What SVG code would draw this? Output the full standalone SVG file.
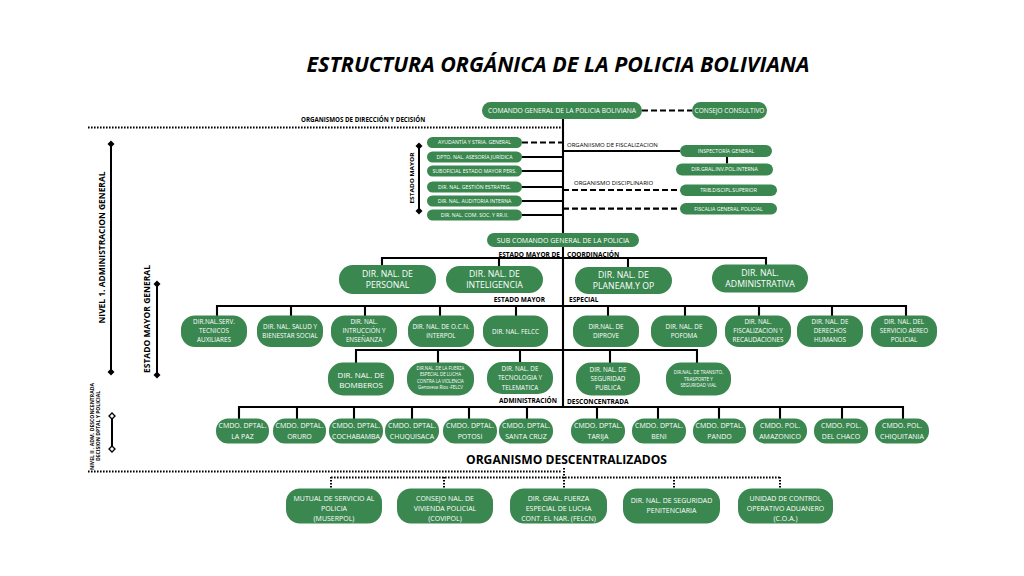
<svg xmlns="http://www.w3.org/2000/svg" width="1024" height="576" viewBox="0 0 1024 576">
<style>
.bx{fill:#3b8750}
.t{font-family:"Open Sans","Liberation Sans",sans-serif;fill:#fff;text-anchor:middle}
.k{font-family:"Open Sans","Liberation Sans",sans-serif;fill:#000}
.kb{font-family:"Open Sans","Liberation Sans",sans-serif;fill:#000;font-weight:700}
.ln{stroke:#000;stroke-width:2.1;fill:none}
.ds{stroke:#000;stroke-width:2.2;fill:none;stroke-dasharray:6 3}
.dt{stroke:#000;stroke-width:2;fill:none;stroke-dasharray:1.6 1.4}
.br{stroke:#000;stroke-width:2;fill:none;marker-start:url(#dia);marker-end:url(#dia)}
.bro{stroke:#000;stroke-width:2;fill:none;marker-start:url(#dio);marker-end:url(#dio)}
.s5{font-size:5.2px}.s6{font-size:6.3px}.s7{font-size:7px}.s8{font-size:8.7px}
</style>
<defs>
<marker id="dia" markerUnits="userSpaceOnUse" markerWidth="8" markerHeight="8" viewBox="-4 -4 8 8" refX="0" refY="0" orient="auto"><path d="M0,-3.5L3.5,0L0,3.5L-3.5,0Z" fill="#000"/></marker>
<marker id="dio" markerUnits="userSpaceOnUse" markerWidth="8" markerHeight="8" viewBox="-4 -4 8 8" refX="0" refY="0" orient="auto"><path d="M0,-3L3,0L0,3L-3,0Z" fill="#fff" stroke="#000" stroke-width="1.3"/></marker>
</defs>
<rect width="1024" height="576" fill="#fff"/>
<text x="558" y="72" class="kb" font-size="22" font-style="italic" text-anchor="middle" textLength="503" lengthAdjust="spacingAndGlyphs">ESTRUCTURA ORGÁNICA DE LA POLICIA BOLIVIANA</text>

<g id="connectors">
<path class="ln" d="M563,119V407"/>
<path class="ds" d="M642,110.5H692"/>
<path class="ds" d="M522,142.5H563"/>
<path class="ln" d="M522,157H563M522,171H563M522,187H563M522,201H563M522,215H563"/>
<path class="ln" d="M563,151H680M727,157V163.5"/>
<path class="ds" d="M563,190H680M563,208.7H680"/>
<path class="ln" d="M382,258H766M382,257V265M499,257V266M628,257V267M766,257V265"/>
<path class="ln" d="M217,306H907M217,305V316M291,305V316M365,305V316M440,305V316M516,305V316M608,305V316M685,305V316M759,305V316M832,305V316M906,305V316"/>
<path class="ln" d="M356,350H697M356,349V363M438,349V363M520,349V362M610,349V363M697,349V363"/>
<path class="ln" d="M239,407H903M239,406V419M297,406V419M354,406V419M412,406V419M469,406V419M527,406V419M597,406V419M658,406V419M719,406V419M780,406V419M842,406V419M903,406V419"/>
<path class="dt" d="M88,127.5H563"/>
<path class="dt" d="M88,471.5H561"/>
<path class="dt" d="M564,468V489"/>
<path class="dt" d="M331,477.5H780M331,477V489M444,477V489M674,477V489M780,477V489"/>
</g>

<g id="side-labels">
<text x="301" y="122" class="kb" font-size="6.2">ORGANISMOS DE DIRECCIÓN Y DECISIÓN</text>
<text x="567" y="146.5" class="k" font-size="6">ORGANIISMO DE FISCALIZACION</text>
<text x="574" y="185" class="k" font-size="6">ORGANISMO DISCIPLINARIO</text>
<text x="560" y="256.5" class="kb" font-size="6.5" text-anchor="end">ESTADO MAYOR DE</text>
<text x="567" y="256.5" class="kb" font-size="6.5">COORDINACIÓN</text>
<text x="545" y="301.5" class="kb" font-size="6.5" text-anchor="end">ESTADO MAYOR</text>
<text x="569" y="302" class="kb" font-size="6.5">ESPECIAL</text>
<text x="557" y="402.5" class="kb" font-size="6.5" text-anchor="end">ADMINISTRACIÓN</text>
<text x="567" y="403.5" class="kb" font-size="6.5">DESCONCENTRADA</text>
<text x="566.5" y="464" class="kb" font-size="13" text-anchor="middle" textLength="201" lengthAdjust="spacingAndGlyphs">ORGANISMO DESCENTRALIZADOS</text>
<text transform="translate(105,247.5) rotate(-90)" class="kb" font-size="9.5" text-anchor="middle" textLength="152" lengthAdjust="spacingAndGlyphs">NIVEL 1. ADMINISTRACION GENERAL</text>
<path class="br" d="M111,144V372"/>
<text transform="translate(150,319) rotate(-90)" class="kb" font-size="8.5" text-anchor="middle" textLength="108" lengthAdjust="spacingAndGlyphs">ESTADO MAYOR GENERAL</text>
<path class="br" d="M157,284V375"/>
<text transform="translate(414,178) rotate(-90)" class="kb" font-size="5.8" text-anchor="middle" textLength="51" lengthAdjust="spacingAndGlyphs">ESTADO MAYOR</text>
<path class="br" d="M419,146V211"/>
<text transform="translate(93.5,426.5) rotate(-90)" class="kb" font-size="4.6" text-anchor="middle" textLength="87" lengthAdjust="spacingAndGlyphs">NIVEL II . ADM. DESCONCENTRADA</text>
<text transform="translate(100,426) rotate(-90)" class="kb" font-size="4.6" text-anchor="middle" textLength="70" lengthAdjust="spacingAndGlyphs">DECISION DPTAL Y POLICIAL</text>
<path class="bro" d="M112,416V449"/>
</g>

<g id="n-comando"><rect class="bx" x="482" y="102" width="160" height="17" rx="8.5"/><text class="t" x="562" y="112.8" font-size="6.7">COMANDO GENERAL DE LA POLICIA BOLIVIANA</text></g>
<g id="n-consejo"><rect class="bx" x="692" y="102" width="75" height="17" rx="8.5"/><text class="t" x="729.5" y="112.8" font-size="6.5">CONSEJO CONSULTIVO</text></g>

<g id="n-ayudantia"><rect class="bx" x="427" y="137" width="95" height="11" rx="5.5"/><text class="t s5" x="474.5" y="144.3">AYUDANTÍA Y STRIA. GENERAL</text></g>
<g id="n-asesoria"><rect class="bx" x="427" y="151.5" width="95" height="11" rx="5.5"/><text class="t s5" x="474.5" y="158.8">DPTO. NAL. ASESORÍA JURÍDICA</text></g>
<g id="n-suboficial"><rect class="bx" x="427" y="165.5" width="95" height="11" rx="5.5"/><text class="t s5" x="474.5" y="172.8">SUBOFICIAL ESTADO MAYOR PERS.</text></g>
<g id="n-gestion"><rect class="bx" x="427" y="181.5" width="95" height="11" rx="5.5"/><text class="t s5" x="474.5" y="188.8">DIR. NAL. GESTIÓN ESTRATEG.</text></g>
<g id="n-auditoria"><rect class="bx" x="427" y="195.5" width="95" height="11" rx="5.5"/><text class="t s5" x="474.5" y="202.8">DIR. NAL. AUDITORIA INTERNA</text></g>
<g id="n-comsoc"><rect class="bx" x="427" y="209.5" width="95" height="11" rx="5.5"/><text class="t s5" x="474.5" y="216.8">DIR. NAL. COM. SOC. Y RR.II.</text></g>

<g id="n-inspectoria"><rect class="bx" x="680" y="145" width="92" height="12" rx="6"/><text class="t s5" x="726" y="152.8">INSPECTORÍA GENERAL</text></g>
<g id="n-invpol"><rect class="bx" x="676" y="163.5" width="97" height="12" rx="6"/><text class="t s5" x="724.5" y="171.3">DIR.GRAL.INV.POL.INTERNA</text></g>
<g id="n-trib"><rect class="bx" x="680" y="184.5" width="97" height="11.5" rx="5.7"/><text class="t s5" x="728.5" y="192">TRIB.DISCIPL.SUPERIOR</text></g>
<g id="n-fiscalia"><rect class="bx" x="680" y="203" width="97" height="11.5" rx="5.7"/><text class="t s5" x="728.5" y="210.5">FISCALIA GENERAL POLICIAL</text></g>

<g id="n-subcomando"><rect class="bx" x="487" y="233" width="152" height="14" rx="7"/><text class="t" x="563" y="242.5" font-size="7">SUB COMANDO GENERAL DE LA POLICIA</text></g>

<g id="n-personal"><rect class="bx" x="339" y="265" width="97" height="29" rx="14"/><text class="t s8" x="387.5" y="277.2">DIR. NAL. DE</text><text class="t s8" x="387.5" y="288.4">PERSONAL</text></g>
<g id="n-inteligencia"><rect class="bx" x="446" y="266" width="97" height="27" rx="13.5"/><text class="t s8" x="494.5" y="277.2">DIR. NAL. DE</text><text class="t s8" x="494.5" y="288.4">INTELIGENCIA</text></g>
<g id="n-planeam"><rect class="bx" x="575" y="267" width="97" height="27" rx="13.5"/><text class="t s8" x="623.5" y="278.2">DIR. NAL. DE</text><text class="t s8" x="623.5" y="289.4">PLANEAM.Y OP</text></g>
<g id="n-administrativa"><rect class="bx" x="712" y="264.5" width="96" height="28" rx="14"/><text class="t s8" x="760" y="276.2">DIR. NAL.</text><text class="t s8" x="760" y="287.4">ADMINISTRATIVA</text></g>

<g id="n-serv"><rect class="bx" x="181" y="315.5" width="66" height="31.5" rx="14"/><text class="t s6" x="214" y="324">DIR.NAL.SERV.</text><text class="t s6" x="214" y="333">TECNICOS</text><text class="t s6" x="214" y="342">AUXILIARES</text></g>
<g id="n-salud"><rect class="bx" x="257" y="315.5" width="66" height="31.5" rx="14"/><text class="t s6" x="290" y="329">DIR. NAL. SALUD Y</text><text class="t s6" x="290" y="338.3">BIENESTAR SOCIAL</text></g>
<g id="n-instruccion"><rect class="bx" x="331" y="315.5" width="66" height="31.5" rx="14"/><text class="t s6" x="364" y="324">DIR. NAL.</text><text class="t s6" x="364" y="333">INTRUCCIÓN Y</text><text class="t s6" x="364" y="342">ENSEÑANZA</text></g>
<g id="n-ocn"><rect class="bx" x="408" y="315.5" width="66" height="31.5" rx="14"/><text class="t s6" x="441" y="329">DIR. NAL. DE O.C.N.</text><text class="t s6" x="441" y="338.3">INTERPOL</text></g>
<g id="n-felcc"><rect class="bx" x="483" y="315.5" width="65" height="31.5" rx="14"/><text class="t s6" x="515.5" y="333.5">DIR. NAL. FELCC</text></g>
<g id="n-diprove"><rect class="bx" x="573" y="315.5" width="66" height="31.5" rx="14"/><text class="t s6" x="606" y="329">DIR.NAL. DE</text><text class="t s6" x="606" y="338.3">DIPROVE</text></g>
<g id="n-pofoma"><rect class="bx" x="651" y="315.5" width="66" height="31.5" rx="14"/><text class="t s6" x="684" y="329">DIR. NAL. DE</text><text class="t s6" x="684" y="338.3">POFOMA</text></g>
<g id="n-fiscalizacion"><rect class="bx" x="725" y="315.5" width="66" height="31.5" rx="14"/><text class="t s6" x="758" y="324">DIR. NAL.</text><text class="t s6" x="758" y="333">FISCALIZACION Y</text><text class="t s6" x="758" y="342">RECAUDACIONES</text></g>
<g id="n-derechos"><rect class="bx" x="797" y="315.5" width="66" height="31.5" rx="14"/><text class="t s6" x="830" y="324">DIR. NAL. DE</text><text class="t s6" x="830" y="333">DERECHOS</text><text class="t s6" x="830" y="342">HUMANOS</text></g>
<g id="n-aereo"><rect class="bx" x="871" y="315.5" width="66" height="31.5" rx="14"/><text class="t s6" x="904" y="324">DIR. NAL. DEL</text><text class="t s6" x="904" y="333">SERVICIO AEREO</text><text class="t s6" x="904" y="342">POLICIAL</text></g>

<g id="n-bomberos"><rect class="bx" x="328" y="362.5" width="66" height="33" rx="15"/><text class="t" font-size="8" x="361" y="377.5">DIR. NAL. DE</text><text class="t" font-size="8" x="361" y="388">BOMBEROS</text></g>
<g id="n-felcv"><rect class="bx" x="407" y="362.5" width="67" height="33" rx="15"/><text class="t" font-size="4.4" x="440.5" y="369.5">DIR.NAL. DE  LA FUERZA</text><text class="t" font-size="4.4" x="440.5" y="376">ESPECIAL DE LUCHA</text><text class="t" font-size="4.4" x="440.5" y="382.5">CONTRA LA VIOLENCIA</text><text class="t" font-size="4.4" x="440.5" y="389">Genoveva Rios -FELCV</text></g>
<g id="n-tecnologia"><rect class="bx" x="487" y="362" width="66" height="32" rx="15"/><text class="t s6" x="520" y="371">DIR. NAL. DE</text><text class="t s6" x="520" y="380.3">TECNOLOGIA Y</text><text class="t s6" x="520" y="389.6">TELEMATICA</text></g>
<g id="n-seguridad"><rect class="bx" x="576" y="362.5" width="64" height="33" rx="15"/><text class="t s6" x="608" y="371.5">DIR. NAL. DE</text><text class="t s6" x="608" y="380.8">SEGURIDAD</text><text class="t s6" x="608" y="390.1">PUBLICA</text></g>
<g id="n-transito"><rect class="bx" x="666" y="362.5" width="65" height="33" rx="15"/><text class="t" font-size="4.6" x="698.5" y="374">DIR.NAL. DE TRANSITO,</text><text class="t" font-size="4.6" x="698.5" y="380.5">TRASPORTE Y</text><text class="t" font-size="4.6" x="698.5" y="387">SEGURIDAD VIAL</text></g>

<g id="n-lapaz"><rect class="bx" x="216" y="418.5" width="53" height="25" rx="12"/><text class="t s7" x="242.5" y="427.5">CMDO. DPTAL.</text><text class="t s7" x="242.5" y="438.5">LA PAZ</text></g>
<g id="n-oruro"><rect class="bx" x="273" y="418.5" width="53" height="25" rx="12"/><text class="t s7" x="299.5" y="427.5">CMDO. DPTAL.</text><text class="t s7" x="299.5" y="438.5">ORURO</text></g>
<g id="n-cochabamba"><rect class="bx" x="329" y="418.5" width="54" height="25" rx="12"/><text class="t s7" x="356" y="427.5">CMDO. DPTAL.</text><text class="t s7" x="356" y="438.5">COCHABAMBA</text></g>
<g id="n-chuquisaca"><rect class="bx" x="385" y="418.5" width="54" height="25" rx="12"/><text class="t s7" x="412" y="427.5">CMDO. DPTAL.</text><text class="t s7" x="412" y="438.5">CHUQUISACA</text></g>
<g id="n-potosi"><rect class="bx" x="443" y="418.5" width="54" height="25" rx="12"/><text class="t s7" x="470" y="427.5">CMDO. DPTAL.</text><text class="t s7" x="470" y="438.5">POTOSI</text></g>
<g id="n-santacruz"><rect class="bx" x="499" y="418.5" width="54" height="25" rx="12"/><text class="t s7" x="526" y="427.5">CMDO. DPTAL.</text><text class="t s7" x="526" y="438.5">SANTA CRUZ</text></g>
<g id="n-tarija"><rect class="bx" x="571" y="418.5" width="54" height="25" rx="12"/><text class="t s7" x="598" y="427.5">CMDO. DPTAL.</text><text class="t s7" x="598" y="438.5">TARIJA</text></g>
<g id="n-beni"><rect class="bx" x="632" y="418.5" width="54" height="25" rx="12"/><text class="t s7" x="659" y="427.5">CMDO. DPTAL.</text><text class="t s7" x="659" y="438.5">BENI</text></g>
<g id="n-pando"><rect class="bx" x="693" y="418.5" width="53" height="25" rx="12"/><text class="t s7" x="719.5" y="427.5">CMDO. DPTAL.</text><text class="t s7" x="719.5" y="438.5">PANDO</text></g>
<g id="n-amazonico"><rect class="bx" x="753" y="418.5" width="54" height="25" rx="12"/><text class="t s7" x="780" y="427.5">CMDO. POL.</text><text class="t s7" x="780" y="438.5">AMAZONICO</text></g>
<g id="n-chaco"><rect class="bx" x="814" y="418.5" width="54" height="25" rx="12"/><text class="t s7" x="841" y="427.5">CMDO. POL.</text><text class="t s7" x="841" y="438.5">DEL CHACO</text></g>
<g id="n-chiquitania"><rect class="bx" x="875" y="418.5" width="54" height="25" rx="12"/><text class="t s7" x="902" y="427.5">CMDO. POL.</text><text class="t s7" x="902" y="438.5">CHIQUITANIA</text></g>

<g id="n-muserpol"><rect class="bx" x="286" y="488.5" width="96" height="35" rx="14"/><text class="t s7" x="334" y="500.8">MUTUAL DE SERVICIO AL</text><text class="t s7" x="334" y="510.8">POLICIA</text><text class="t s7" x="334" y="520.8">(MUSERPOL)</text></g>
<g id="n-covipol"><rect class="bx" x="397" y="488.5" width="96" height="35" rx="14"/><text class="t s7" x="445" y="500.8">CONSEJO NAL. DE</text><text class="t s7" x="445" y="510.8">VIVIENDA POLICIAL</text><text class="t s7" x="445" y="520.8">(COVIPOL)</text></g>
<g id="n-felcn"><rect class="bx" x="510" y="488.5" width="97" height="35" rx="14"/><text class="t s7" x="558.5" y="500.8">DIR. GRAL. FUERZA</text><text class="t s7" x="558.5" y="510.8">ESPECIAL DE LUCHA</text><text class="t s7" x="558.5" y="520.8">CONT. EL NAR. (FELCN)</text></g>
<g id="n-penitenciaria"><rect class="bx" x="623" y="488.5" width="97" height="35" rx="14"/><text class="t s7" x="671.5" y="502.5">DIR. NAL. DE SEGURIDAD</text><text class="t s7" x="671.5" y="513">PENITENCIARIA</text></g>
<g id="n-coa"><rect class="bx" x="738" y="488.5" width="95" height="35" rx="14"/><text class="t s7" x="785.5" y="500.8">UNIDAD DE CONTROL</text><text class="t s7" x="785.5" y="510.8">OPERATIVO ADUANERO</text><text class="t s7" x="785.5" y="520.8">(C.O.A.)</text></g>
</svg>
